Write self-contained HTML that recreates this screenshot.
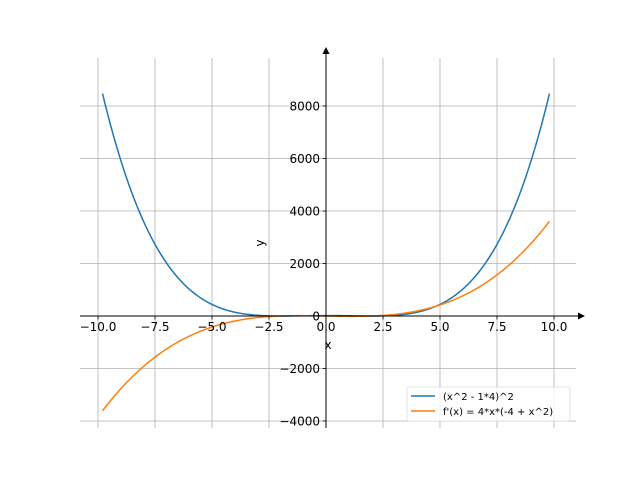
<!DOCTYPE html>
<html><head><style>body{margin:0;background:#fff}svg{display:block}text{font-family:"DejaVu Sans","Liberation Sans",sans-serif}</style></head>
<body>
<svg id="s" width="640" height="480" viewBox="0 0 640 480" xmlns="http://www.w3.org/2000/svg">
<rect width="640" height="480" fill="#fff"/>
<g id="grid" stroke="#b0b0b0" stroke-width="0.8"></g>
<path id="b" fill="none" stroke="#1f77b4" stroke-width="1.5"/>
<path id="o" fill="none" stroke="#ff7f0e" stroke-width="1.5"/>
<g stroke="#000" stroke-width="1">
<line x1="80" y1="316" x2="580" y2="316"/>
<line x1="326" y1="428" x2="326" y2="52"/>
</g>
<polygon points="585,316 578,312.5 578,319.5" fill="#000"/>
<polygon points="326,47 322.5,54 329.5,54" fill="#000"/>
<g id="ticks" stroke="#000" stroke-width="0.8"></g>
<g id="lbl" font-size="12" fill="#000"></g>
<text x="328" y="349" font-size="12" text-anchor="middle">x</text>
<text x="264" y="243" font-size="12" text-anchor="middle" transform="rotate(-90 264 243)">y</text>
<rect x="407" y="387" width="163" height="34" fill="#fff" fill-opacity="0.8" stroke="#ddd" stroke-width="0.8" rx="2"/>
<line x1="411" y1="396" x2="435" y2="396" stroke="#1f77b4" stroke-width="1.5"/>
<line x1="411" y1="411" x2="435" y2="411" stroke="#ff7f0e" stroke-width="1.5"/>
<text x="443" y="400" font-size="10">(x^2 - 1*4)^2</text>
<text x="443" y="415" font-size="10">f'(x) = 4*x*(-4 + x^2)</text>
</svg>
<script>
var X=function(x){return 326+22.8*x},Y=function(y){return 316-0.02625*y};
var g=document.getElementById('grid'),t=document.getElementById('ticks'),l=document.getElementById('lbl'),ns='http://www.w3.org/2000/svg';
function el(p,n,a,txt){var e=document.createElementNS(ns,n);for(var k in a)e.setAttribute(k,a[k]);if(txt!=null)e.textContent=txt;p.appendChild(e);}
for(var i=-4;i<=4;i++){var x=X(i*2.5);el(g,'line',{x1:x,y1:58,x2:x,y2:428});el(t,'line',{x1:x,y1:316,x2:x,y2:319.5});
el(l,'text',{x:x,y:331,'text-anchor':'middle'},(i*2.5).toFixed(1).replace('-','\u2212'));}
for(var v=-4000;v<=8000;v+=2000){var y=Y(v);el(g,'line',{x1:80,y1:y,x2:576,y2:y});el(t,'line',{x1:322.5,y1:y,x2:326,y2:y});
el(l,'text',{x:320,y:y+4.5,'text-anchor':'end'},String(v).replace('-','\u2212'));}
var b='',o='';for(var k=0;k<=400;k++){var x=-9.8+19.6*k/400;var f=Math.pow(x*x-4,2),d=4*x*(x*x-4);
b+=(k?'L':'M')+X(x).toFixed(2)+','+Y(f).toFixed(2);o+=(k?'L':'M')+X(x).toFixed(2)+','+Y(d).toFixed(2);}
document.getElementById('b').setAttribute('d',b);document.getElementById('o').setAttribute('d',o);
</script>
</body></html>
